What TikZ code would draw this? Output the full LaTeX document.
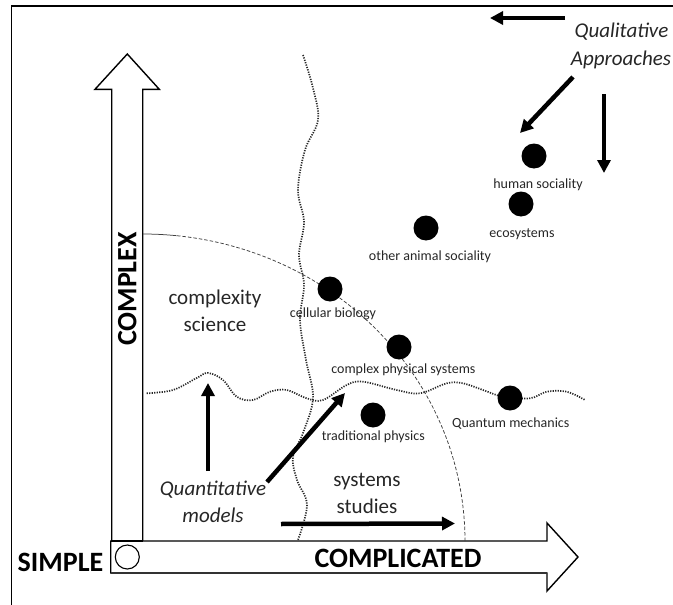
\documentclass[tikz,border=0pt]{standalone}
\usepackage{fontspec}
\setmainfont{Carlito}
\usetikzlibrary{arrows.meta}
\begin{document}
\begin{tikzpicture}[x=1pt,y=-1pt,
  frame/.style={draw=black,line width=1.5pt},
  bigarrow/.style={draw=black,line width=1.4pt,fill=white,line join=miter},
  dotline/.style={draw=black!85,line width=1.7pt,dash pattern=on 1.2pt off 1.3pt},
  arcline/.style={draw=black!75,line width=0.75pt,dash pattern=on 3.5pt off 2pt},
  thickarrow/.style={draw=black,line width=4.5pt,-{Triangle[length=13pt,width=13pt]}},
  blob/.style={circle,fill=black,minimum size=25pt,inner sep=0pt},
  lbl/.style={font=\fontsize{14}{16}\selectfont,text=black!85,inner sep=0pt,anchor=base},
  midtext/.style={font=\fontsize{21}{27}\selectfont,text=black!85,inner sep=0pt,anchor=base},
  ittext/.style={font=\fontsize{21}{27}\selectfont\itshape,text=black!85,inner sep=0pt,anchor=base},
  axislbl/.style={font=\fontsize{28}{30}\selectfont\bfseries,text=black,inner sep=0pt}]
\useasboundingbox (0,0) rectangle (673,605);

% frame (left and top edges visible)
\draw[frame] (11.7,605) -- (11.7,6) -- (673,6);

% big axis arrows
\draw[bigarrow] (111.7,573) -- (111.7,89.3) -- (95,89.3) -- (127.3,54) -- (159.3,89.3) -- (142.7,89.3) -- (142.7,573) -- cycle;
\draw[bigarrow] (110.7,541) -- (547,541) -- (547,523) -- (578,557) -- (547,591) -- (547,573) -- (110.7,573) -- cycle;
\draw[draw=black!80,line width=2.2pt] (110.7,573) -- (547,573);
\draw[draw=black,line width=1.2pt] (110.7,541) -- (142.7,541);
\node[circle,draw=black,line width=1.1pt,minimum size=24pt,inner sep=0pt] (origin) at (127.3,557) {};

% axis labels
\node[axislbl] (simple) at (60.5,562.5) {SIMPLE};
\node[axislbl] (complicated) at (398,558) {COMPLICATED};
\node[axislbl,rotate=90] (complex) at (127.3,289) {COMPLEX};

% dashed quarter ellipse
\draw[draw=black!75,line width=0.75pt] plot[domain=84:90,samples=5] ({143+322*cos(\x)},{541-307*sin(\x)});
\draw[arcline] plot[domain=0:84,samples=80,smooth] ({143+322*cos(\x)},{541-307*sin(\x)});

% wavy dotted lines
\draw[dotline] plot[smooth,tension=0.6] coordinates {(303,55) (313,88) (318,120) (305,150) (298,190) (304,222) (299,255) (304,285) (300,320) (306,360) (313,398) (303,433) (293,457) (297,480) (307,505) (298,540)};
\draw[dotline] plot[smooth,tension=0.6] coordinates {(146.7,393.3) (173,390) (196.7,378) (208,373) (223,380) (236.7,396.7) (253,400) (270,391.7) (286.7,390) (306.7,398.3) (323,400) (346.7,385) (363,381.7) (396.7,390) (420,393.3) (446.7,383.3) (463,383.3) (483,390) (503,396.7) (530,398.3) (546.7,391.7) (566.7,391.7) (585,400)};

% dots
\node[blob] (human) at (534,156) {};
\node[blob] (eco) at (521,204) {};
\node[blob] (animal) at (426,228) {};
\node[blob] (cell) at (330,289) {};
\node[blob] (cplx) at (399,347) {};
\node[blob] (trad) at (373,415) {};
\node[blob] (quant) at (510,398) {};

% dot labels
\node[lbl] (humanl) at (538,188) {human sociality};
\node[lbl] (ecol) at (522,237) {ecosystems};
\node[lbl] (animall) at (430,260) {other animal sociality};
\node[lbl] (celll) at (333,317) {cellular biology};
\node[lbl] (cplxl) at (403.4,373) {complex physical systems};
\node[lbl] (tradl) at (373.3,440.7) {traditional physics};
\node[lbl] (quantl) at (510.8,427.3) {Quantum mechanics};

% region texts
\node[midtext] (cs1) at (215,304) {complexity};
\node[midtext] (cs2) at (215,331) {science};
\node[midtext] (ss1) at (367,486) {systems};
\node[midtext] (ss2) at (367,513) {studies};
\node[ittext] (qm1) at (213,495) {Quantitative};
\node[ittext] (qm2) at (213,522) {models};
\node[ittext] (qa1) at (621.5,37.5) {Qualitative};
\node[ittext] (qa2) at (621,65) {Approaches};

% arrow end points
\coordinate (u0) at (208,471);   \coordinate (u1) at (208,383);
\coordinate (d0) at (267,482);   \coordinate (d1) at (345,393);
\coordinate (r0) at (281,524);   \coordinate (r1) at (455,523.5);
\coordinate (l0) at (565,18);    \coordinate (l1) at (490,18);
\coordinate (g0) at (573,77);    \coordinate (g1) at (520,133);
\coordinate (v0) at (604,94);    \coordinate (v1) at (604,173);

\draw[thickarrow] (u0) -- (u1);
\draw[thickarrow] (d0) -- (d1);
\draw[thickarrow] (r0) -- (r1);
\draw[thickarrow] (l0) -- (l1);
\draw[thickarrow] (g0) -- (g1);
\draw[thickarrow] (v0) -- (v1);
\end{tikzpicture}
\end{document}
